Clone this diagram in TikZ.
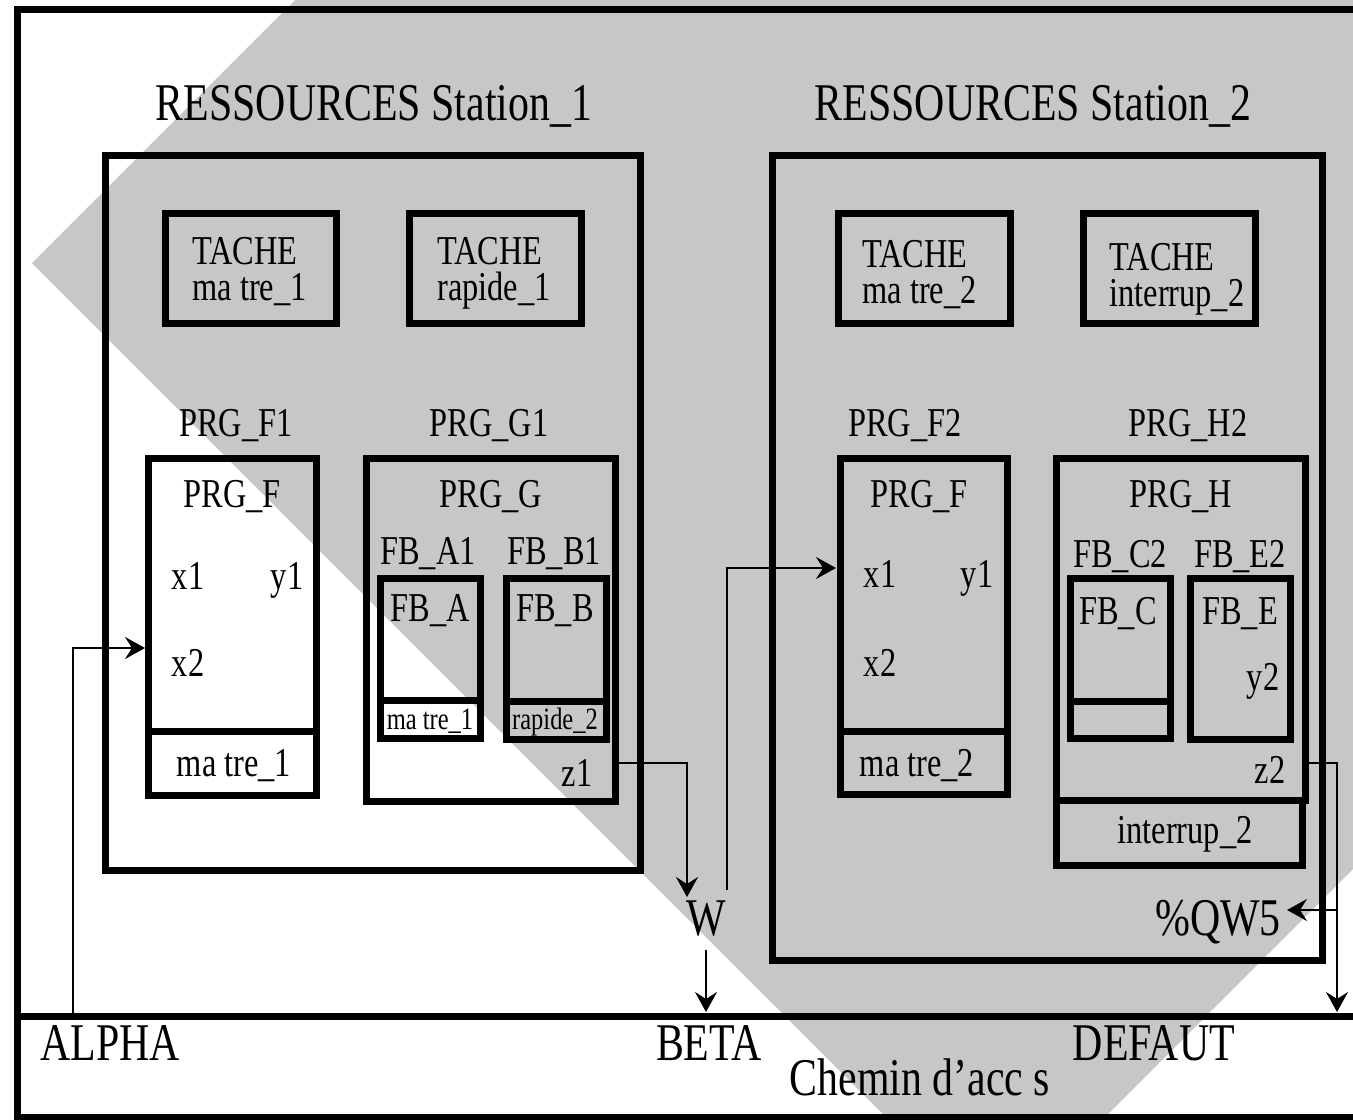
\documentclass[tikz,border=0pt]{standalone}
\usepackage{fontspec}
\setmainfont{Liberation Serif}[FakeStretch=0.79]
\usetikzlibrary{arrows.meta}
\definecolor{bandgrey}{RGB}{198,199,201}
\newcommand{\mybox}[5]{\node[thickbox, minimum width={(#4-#2)*0.5pt}, minimum height={(#5-#3)*0.5pt}] (#1) at ({(#2+#4)/2},{(#3+#5)/2}) {};}
\begin{document}
\begin{tikzpicture}[x=0.5pt, y=-0.5pt,
  thickbox/.style={draw=black, line width=3.5pt, inner sep=0pt, outer sep=0pt, rectangle},
  big/.style={inner sep=0pt, anchor=base, font=\fontsize{26.5pt}{30pt}\selectfont},
  mid/.style={inner sep=0pt, anchor=base, font=\fontsize{20.5pt}{24pt}\selectfont},
  twoline/.style={inner sep=0pt, anchor=north west, align=left, font=\fontsize{20.5pt}{18pt}\selectfont},
  small/.style={inner sep=0pt, anchor=base, font=\fontsize{15.5pt}{18pt}\selectfont},
  conn/.style={line width=1pt, -{Stealth[length=10pt,width=11pt,inset=3.5pt]}}]
\useasboundingbox (0,0) rectangle (1353,1119);
% grey band
\fill[bandgrey] (295,0) -- (32,263) -- (888,1119) -- (1103,1119) -- (1353,869) -- (1353,0) -- cycle;
% outer frame
\draw[line width=3.5pt] (1353,9) -- (17,9) -- (17,1117) -- (1353,1117);
\draw[line width=3.5pt] (17,1016) -- (1353,1016);
% titles
\node[big] (title1) at (374,120) {RESSOURCES Station\_1};
\node[big] (title2) at (1033,120) {RESSOURCES Station\_2};
% boxes
\mybox{st1}{105}{155}{640}{870}
\mybox{st2}{772}{155}{1322}{960}
\mybox{tk1}{165}{213}{336}{323}
\mybox{tk2}{409}{213}{581}{323}
\mybox{tk3}{838}{213}{1010}{323}
\mybox{tk4}{1083}{213}{1255}{323}
\mybox{prgf}{148}{458}{316}{731}
\mybox{prgfc}{148}{731}{316}{795}
\mybox{prgg}{366}{458}{615}{801}
\mybox{fba}{380}{578}{480}{700}
\mybox{fbac}{380}{700}{480}{738}
\mybox{fbb}{506}{578}{606}{701}
\mybox{fbbc}{506}{701}{606}{739}
\mybox{prgftwo}{840}{458}{1007}{731}
\mybox{prgftwoc}{840}{731}{1007}{794}
\mybox{prgh}{1056}{458}{1305}{800}
\mybox{prghc}{1056}{800}{1302}{865}
\mybox{fbc}{1070}{578}{1170}{701}
\mybox{fbcc}{1070}{701}{1170}{738}
\mybox{fbe}{1190}{578}{1290}{739}
% task texts
\node[twoline] (tk1t) at (192,237) {TACHE\\ma tre\_1};
\node[twoline] (tk2t) at (437,237) {TACHE\\rapide\_1};
\node[twoline] (tk3t) at (862,240) {TACHE\\ma tre\_2};
\node[twoline] (tk4t) at (1109,243) {TACHE\\interrup\_2};
% program labels
\node[mid] (lf1) at (236,436) {PRG\_F1};
\node[mid] (lg1) at (489,436) {PRG\_G1};
\node[mid] (lf2) at (905,436) {PRG\_F2};
\node[mid] (lh2) at (1188,436) {PRG\_H2};
\node[mid] (tf1) at (232,507) {PRG\_F};
\node[mid] (tg1) at (491,507) {PRG\_G};
\node[mid] (tf2) at (919,507) {PRG\_F};
\node[mid] (th2) at (1181,507) {PRG\_H};
\node[mid] (xa1) at (188,589) {x1};
\node[mid] (ya1) at (287,589) {y1};
\node[mid] (xb1) at (188,676) {x2};
\node[mid] (xa2) at (880,587) {x1};
\node[mid] (ya2) at (977,587) {y1};
\node[mid] (xb2) at (880,676) {x2};
\node[mid] (lfba) at (428,564) {FB\_A1};
\node[mid] (lfbb) at (554,564) {FB\_B1};
\node[mid] (lfbc) at (1120,567) {FB\_C2};
\node[mid] (lfbe) at (1240,567) {FB\_E2};
\node[mid] (tfba) at (430,621) {FB\_A};
\node[mid] (tfbb) at (555,621) {FB\_B};
\node[mid] (tfbc) at (1118,624) {FB\_C};
\node[mid] (tfbe) at (1240,624) {FB\_E};
\node[mid] (ytwo) at (1263,690) {y2};
\node[small] (cfba) at (430,729) {ma tre\_1};
\node[small] (cfbb) at (555,729) {rapide\_2};
\node[mid] (zone) at (577,786) {z1};
\node[mid] (ztwo) at (1270,783) {z2};
\node[mid] (cf1) at (234,776) {ma tre\_1};
\node[mid] (cf2) at (917,776) {ma tre\_2};
\node[mid] (ch2) at (1185,843) {interrup\_2};
% signals
\node[big] (w) at (706,935) {W};
\node[big] (qw) at (1218,935) {\%QW5};
\node[big] (alpha) at (110,1060) {ALPHA};
\node[big] (beta) at (709,1060) {BETA};
\node[big] (defaut) at (1154,1060) {DEFAUT};
\node[big] (chemin) at (920,1095) {Chemin d’acc s};
% connectors
\coordinate (alphafoot) at (73,1013);
\coordinate (x2in) at (145,648);
\draw[conn] (alphafoot) |- (x2in);
\coordinate (z1out) at (prgg.east |- 0,763);
\coordinate (win) at (687,897);
\draw[conn] (z1out) -| (win);
\coordinate (wout) at (706,950);
\coordinate (betain) at (706,1012);
\draw[conn] (wout) -- (betain);
\coordinate (wup) at (727,890);
\coordinate (x1in) at (836,568);
\draw[conn] (wup) |- (x1in);
\coordinate (z2out) at (prgh.east |- 0,763);
\coordinate (defin) at (1337,1012);
\draw[conn] (z2out) -| (defin);
\coordinate (qwbr) at (1337,910);
\coordinate (qwin) at (1287,910);
\draw[conn] (qwbr) -- (qwin);
\end{tikzpicture}
\end{document}
